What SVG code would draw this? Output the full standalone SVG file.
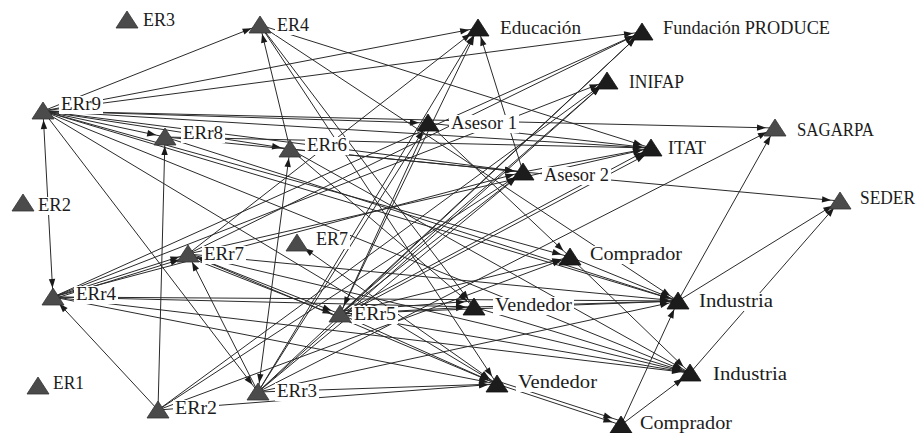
<svg xmlns="http://www.w3.org/2000/svg" width="917" height="433" viewBox="0 0 917 433">
  <style>
    .e line { stroke: #2a2a2a; stroke-width: 1; fill: none; }
    .lbl { font-family: "Liberation Serif", "Times New Roman", serif; font-size: 18px; fill: #1c1c1c; }
    .bg { fill: #ffffff; }
    .g { fill: #4b4b4b; stroke: #333333; stroke-width: 0.8; }
    .k { fill: #1c1c1c; stroke: #111111; stroke-width: 0.8; }
  </style>
  <defs>
    <path id="tri" d="M0,-9 L11,8 L-11,8 Z"/>
    <marker id="ah" markerUnits="userSpaceOnUse" markerWidth="11" markerHeight="8" refX="19" refY="4" orient="auto-start-reverse">
      <path d="M10,4 L1,0.8 L1,7.2 Z" fill="#1a1a1a"/>
    </marker>
  </defs>
  <rect width="917" height="433" fill="#ffffff"/>

  <!-- connectors: each line runs centre to centre, arrowheads stop short of the node -->
  <g id="edges" class="e" marker-end="url(#ah)">
    <!-- ERr9 -->
    <line x1="43" y1="111" x2="260" y2="25"/>
    <line x1="43" y1="111" x2="478" y2="28"/>
    <line x1="43" y1="111" x2="642" y2="32"/>
    <line x1="43" y1="111" x2="165" y2="137"/>
    <line x1="43" y1="111" x2="428" y2="123"/>
    <line x1="43" y1="111" x2="651" y2="148"/>
    <line x1="43" y1="111" x2="775" y2="128"/>
    <line x1="43" y1="111" x2="523" y2="172"/>
    <line x1="43" y1="111" x2="53" y2="297" marker-start="url(#ah)"/>
    <line x1="43" y1="111" x2="258" y2="392"/>
    <line x1="43" y1="111" x2="570" y2="257"/>
    <line x1="43" y1="111" x2="678" y2="301"/>
    <line x1="43" y1="111" x2="690" y2="373"/>
    <line x1="43" y1="111" x2="497" y2="384"/>
    <line x1="43" y1="111" x2="290" y2="149"/>
    <!-- ERr8 -->
    <line x1="165" y1="137" x2="523" y2="172"/>
    <line x1="165" y1="137" x2="651" y2="148"/>
    <line x1="165" y1="137" x2="678" y2="301"/>
    <!-- ERr2 -->
    <line x1="158" y1="410" x2="165" y2="137"/>
    <line x1="158" y1="410" x2="53" y2="297"/>
    <line x1="158" y1="410" x2="497" y2="384"/>
    <line x1="158" y1="410" x2="607" y2="81"/>
    <line x1="158" y1="410" x2="523" y2="172"/>
    <line x1="158" y1="410" x2="570" y2="257"/>
    <!-- ERr3 -->
    <line x1="258" y1="392" x2="290" y2="149" marker-start="url(#ah)"/>
    <line x1="258" y1="392" x2="188" y2="254"/>
    <line x1="258" y1="392" x2="497" y2="384"/>
    <line x1="258" y1="392" x2="478" y2="28"/>
    <line x1="258" y1="392" x2="642" y2="32"/>
    <line x1="258" y1="392" x2="607" y2="81"/>
    <line x1="258" y1="392" x2="428" y2="123"/>
    <line x1="258" y1="392" x2="775" y2="128"/>
    <line x1="258" y1="392" x2="678" y2="301"/>
    <line x1="258" y1="392" x2="523" y2="172"/>
    <!-- ERr4 -->
    <line x1="53" y1="297" x2="188" y2="254"/>
    <line x1="53" y1="299" x2="188" y2="257"/>
    <line x1="53" y1="297" x2="642" y2="32"/>
    <line x1="53" y1="297" x2="607" y2="81"/>
    <line x1="53" y1="297" x2="474" y2="307"/>
    <line x1="53" y1="297" x2="678" y2="301"/>
    <line x1="53" y1="297" x2="497" y2="384"/>
    <line x1="53" y1="297" x2="690" y2="373"/>
    <line x1="53" y1="297" x2="523" y2="172"/>
    <!-- ERr7 -->
    <line x1="188" y1="254" x2="478" y2="28"/>
    <line x1="188" y1="254" x2="642" y2="32"/>
    <line x1="188" y1="254" x2="340" y2="314" marker-start="url(#ah)"/>
    <line x1="188" y1="257" x2="340" y2="317"/>
    <line x1="188" y1="254" x2="678" y2="301"/>
    <line x1="188" y1="254" x2="690" y2="373"/>
    <line x1="188" y1="254" x2="497" y2="384"/>
    <line x1="188" y1="254" x2="651" y2="148"/>
    <!-- ERr6 -->
    <line x1="290" y1="149" x2="260" y2="25"/>
    <line x1="290" y1="149" x2="523" y2="172"/>
    <line x1="290" y1="149" x2="690" y2="373"/>
    <line x1="290" y1="149" x2="474" y2="307"/>
    <!-- ER4 -->
    <line x1="260" y1="25" x2="474" y2="307"/>
    <line x1="260" y1="25" x2="497" y2="384"/>
    <line x1="260" y1="25" x2="678" y2="301"/>
    <line x1="260" y1="25" x2="651" y2="148"/>
    <!-- ERr5 -->
    <line x1="340" y1="314" x2="474" y2="307"/>
    <line x1="340" y1="311" x2="474" y2="301"/>
    <line x1="340" y1="314" x2="497" y2="384"/>
    <line x1="340" y1="314" x2="678" y2="301"/>
    <line x1="340" y1="314" x2="690" y2="373"/>
    <line x1="340" y1="314" x2="651" y2="148"/>
    <line x1="342" y1="316" x2="653" y2="151"/>
    <line x1="340" y1="314" x2="607" y2="81"/>
    <line x1="340" y1="314" x2="642" y2="32"/>
    <line x1="340" y1="314" x2="478" y2="28"/>
    <line x1="340" y1="314" x2="570" y2="257"/>
    <line x1="340" y1="314" x2="523" y2="172"/>
    <!-- Asesor 1 -->
    <line x1="428" y1="123" x2="340" y2="314"/>
    <line x1="428" y1="123" x2="651" y2="148"/>
    <line x1="428" y1="123" x2="570" y2="257"/>
    <!-- Asesor 2 -->
    <line x1="523" y1="172" x2="478" y2="28"/>
    <line x1="523" y1="172" x2="840" y2="201"/>
    <line x1="523" y1="172" x2="651" y2="148"/>
    <!-- Vendedor / Comprador / Industria -->
    <line x1="474" y1="307" x2="678" y2="301"/>
    <line x1="474" y1="307" x2="690" y2="373"/>
    <line x1="570" y1="257" x2="678" y2="301"/>
    <line x1="570" y1="257" x2="690" y2="373"/>
    <line x1="497" y1="384" x2="621" y2="425"/>
    <line x1="497" y1="381" x2="621" y2="421"/>
    <line x1="497" y1="384" x2="297" y2="243" marker-start="url(#ah)"/>
    <line x1="621" y1="425" x2="678" y2="301"/>
    <line x1="621" y1="425" x2="690" y2="373"/>
    <line x1="678" y1="301" x2="775" y2="128"/>
    <line x1="678" y1="301" x2="840" y2="201"/>
    <line x1="690" y1="373" x2="840" y2="201"/>
  </g>

  <!-- nodes -->
  <g id="n-ER3"><rect class="bg" x="141" y="12" width="36" height="18"/><text class="lbl" x="143" y="26" textLength="32" lengthAdjust="spacingAndGlyphs">ER3</text><use href="#tri" x="127" y="20" class="g"/></g>
  <g id="n-ER4"><rect class="bg" x="275" y="17" width="36" height="18"/><text class="lbl" x="277" y="31" textLength="32" lengthAdjust="spacingAndGlyphs">ER4</text><use href="#tri" x="260" y="25" class="g"/></g>
  <g id="n-Educacion"><rect class="bg" x="498" y="20" width="85" height="18"/><text class="lbl" x="500" y="34" textLength="81" lengthAdjust="spacingAndGlyphs">Educación</text><use href="#tri" x="478" y="28" class="k"/></g>
  <g id="n-FundacionPRODUCE"><rect class="bg" x="661" y="20" width="171" height="18"/><text class="lbl" x="663" y="34" textLength="167" lengthAdjust="spacingAndGlyphs">Fundación PRODUCE</text><use href="#tri" x="642" y="32" class="k"/></g>
  <g id="n-INIFAP"><rect class="bg" x="627" y="74" width="59" height="18"/><text class="lbl" x="629" y="88" textLength="55" lengthAdjust="spacingAndGlyphs">INIFAP</text><use href="#tri" x="607" y="81" class="k"/></g>
  <g id="n-ERr9"><rect class="bg" x="59" y="96" width="44" height="18"/><text class="lbl" x="61" y="110" textLength="40" lengthAdjust="spacingAndGlyphs">ERr9</text><use href="#tri" x="43" y="111" class="g"/></g>
  <g id="n-ERr8"><rect class="bg" x="181" y="125" width="44" height="18"/><text class="lbl" x="183" y="139" textLength="40" lengthAdjust="spacingAndGlyphs">ERr8</text><use href="#tri" x="165" y="137" class="g"/></g>
  <g id="n-ERr6"><rect class="bg" x="305" y="137" width="44" height="18"/><text class="lbl" x="307" y="151" textLength="40" lengthAdjust="spacingAndGlyphs">ERr6</text><use href="#tri" x="290" y="149" class="g"/></g>
  <g id="n-Asesor1"><rect class="bg" x="449" y="115" width="70" height="18"/><text class="lbl" x="451" y="129" textLength="66" lengthAdjust="spacingAndGlyphs">Asesor 1</text><use href="#tri" x="428" y="123" class="k"/></g>
  <g id="n-ITAT"><rect class="bg" x="666" y="140" width="42" height="18"/><text class="lbl" x="668" y="154" textLength="38" lengthAdjust="spacingAndGlyphs">ITAT</text><use href="#tri" x="651" y="148" class="k"/></g>
  <g id="n-SAGARPA"><rect class="bg" x="795" y="122" width="81" height="18"/><text class="lbl" x="797" y="136" textLength="77" lengthAdjust="spacingAndGlyphs">SAGARPA</text><use href="#tri" x="775" y="128" class="g"/></g>
  <g id="n-Asesor2"><rect class="bg" x="542" y="167" width="69" height="18"/><text class="lbl" x="544" y="181" textLength="65" lengthAdjust="spacingAndGlyphs">Asesor 2</text><use href="#tri" x="523" y="172" class="k"/></g>
  <g id="n-SEDER"><rect class="bg" x="858" y="190" width="59" height="18"/><text class="lbl" x="860" y="204" textLength="55" lengthAdjust="spacingAndGlyphs">SEDER</text><use href="#tri" x="840" y="201" class="g"/></g>
  <g id="n-ER2"><rect class="bg" x="36" y="197" width="37" height="18"/><text class="lbl" x="38" y="211" textLength="33" lengthAdjust="spacingAndGlyphs">ER2</text><use href="#tri" x="23" y="203" class="g"/></g>
  <g id="n-ERr7"><rect class="bg" x="202" y="246" width="44" height="18"/><text class="lbl" x="204" y="260" textLength="40" lengthAdjust="spacingAndGlyphs">ERr7</text><use href="#tri" x="188" y="254" class="g"/></g>
  <g id="n-ER7"><rect class="bg" x="314" y="231" width="36" height="18"/><text class="lbl" x="316" y="245" textLength="32" lengthAdjust="spacingAndGlyphs">ER7</text><use href="#tri" x="297" y="243" class="g"/></g>
  <g id="n-Comprador1"><rect class="bg" x="588" y="246" width="96" height="18"/><text class="lbl" x="590" y="260" textLength="92" lengthAdjust="spacingAndGlyphs">Comprador</text><use href="#tri" x="570" y="257" class="k"/></g>
  <g id="n-ERr4"><rect class="bg" x="74" y="286" width="44" height="18"/><text class="lbl" x="76" y="300" textLength="40" lengthAdjust="spacingAndGlyphs">ERr4</text><use href="#tri" x="53" y="297" class="g"/></g>
  <g id="n-Industria1"><rect class="bg" x="697" y="293" width="78" height="18"/><text class="lbl" x="699" y="307" textLength="74" lengthAdjust="spacingAndGlyphs">Industria</text><use href="#tri" x="678" y="301" class="k"/></g>
  <g id="n-ERr5"><rect class="bg" x="352" y="306" width="46" height="18"/><text class="lbl" x="354" y="320" textLength="42" lengthAdjust="spacingAndGlyphs">ERr5</text><use href="#tri" x="340" y="314" class="g"/></g>
  <g id="n-Vendedor1"><rect class="bg" x="493" y="297" width="81" height="18"/><text class="lbl" x="495" y="311" textLength="77" lengthAdjust="spacingAndGlyphs">Vendedor</text><use href="#tri" x="474" y="307" class="k"/></g>
  <g id="n-ER1"><rect class="bg" x="51" y="375" width="35" height="18"/><text class="lbl" x="53" y="389" textLength="31" lengthAdjust="spacingAndGlyphs">ER1</text><use href="#tri" x="38" y="386" class="g"/></g>
  <g id="n-ERr3"><rect class="bg" x="275" y="383" width="44" height="18"/><text class="lbl" x="277" y="397" textLength="40" lengthAdjust="spacingAndGlyphs">ERr3</text><use href="#tri" x="258" y="392" class="g"/></g>
  <g id="n-ERr2"><rect class="bg" x="173" y="400" width="46" height="18"/><text class="lbl" x="175" y="414" textLength="42" lengthAdjust="spacingAndGlyphs">ERr2</text><use href="#tri" x="158" y="410" class="g"/></g>
  <g id="n-Vendedor2"><rect class="bg" x="516" y="374" width="83" height="18"/><text class="lbl" x="518" y="388" textLength="79" lengthAdjust="spacingAndGlyphs">Vendedor</text><use href="#tri" x="497" y="384" class="k"/></g>
  <g id="n-Industria2"><rect class="bg" x="711" y="366" width="78" height="18"/><text class="lbl" x="713" y="380" textLength="74" lengthAdjust="spacingAndGlyphs">Industria</text><use href="#tri" x="690" y="373" class="k"/></g>
  <g id="n-Comprador2"><rect class="bg" x="638" y="415" width="96" height="18"/><text class="lbl" x="640" y="429" textLength="92" lengthAdjust="spacingAndGlyphs">Comprador</text><use href="#tri" x="621" y="425" class="k"/></g>
</svg>
